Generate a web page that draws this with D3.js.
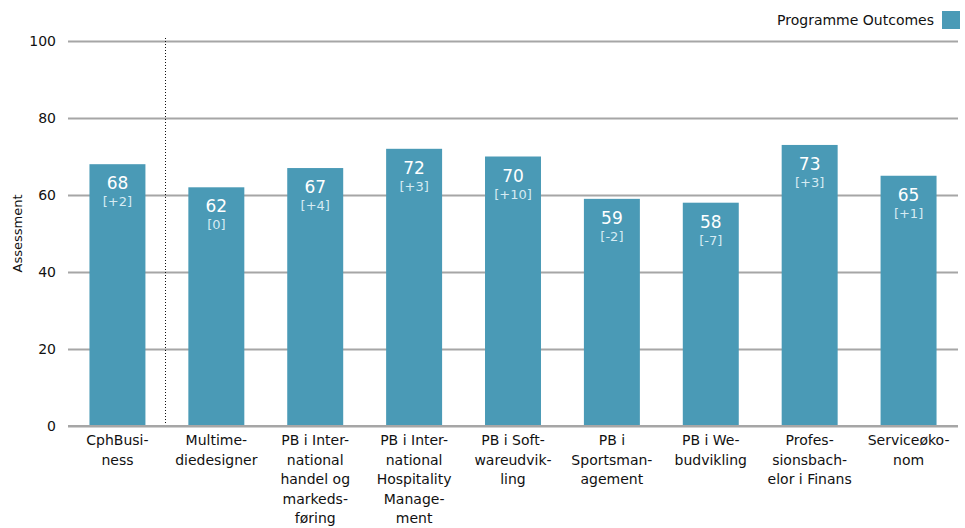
<!DOCTYPE html>
<html>
<head>
<meta charset="utf-8">
<script src="https://cdn.jsdelivr.net/npm/d3@7"></script>
<style>
  body { margin: 0; background: #fff; }
  svg text { font-family: Tahoma, "DejaVu Sans", sans-serif; }
</style>
</head>
<body>
<svg id="chart" width="965" height="528"></svg>
<script>
// Programme names, each split into its wrapped label lines
const categories = [
  ["CphBusi-", "ness"],
  ["Multime-", "diedesigner"],
  ["PB i Inter-", "national", "handel og", "markeds-", "føring"],
  ["PB i Inter-", "national", "Hospitality", "Manage-", "ment"],
  ["PB i Soft-", "wareudvik-", "ling"],
  ["PB i", "Sportsman-", "agement"],
  ["PB i We-", "budvikling"],
  ["Profes-", "sionsbach-", "elor i Finans"],
  ["Serviceøko-", "nom"]
];
const outcomes = [68, 62, 67, 72, 70, 59, 58, 73, 65];
const changes = ["[+2]", "[0]", "[+4]", "[+3]", "[+10]", "[-2]", "[-7]", "[+3]", "[+1]"];
const yTicks = [0, 20, 40, 60, 80, 100];
const seriesName = "Programme Outcomes";

const barColor = "#4a9ab6";
const gridColor = "#a6a6a6";

const svg = d3.select("#chart");
const plot = { left: 68, right: 958, top: 41, bottom: 426 };

const x = d3.scaleBand()
  .domain(d3.range(categories.length))
  .range([plot.left, plot.right])
  .paddingInner(0.434)
  .paddingOuter(0.217);

const y = d3.scaleLinear().domain([0, 100]).range([plot.bottom, plot.top]);

// Horizontal gridlines and value ticks
const yAxis = svg.append("g")
  .attr("transform", `translate(${plot.left},0)`)
  .call(d3.axisLeft(y).tickValues(yTicks).tickSize(-(plot.right - plot.left)).tickPadding(12));
yAxis.select(".domain").remove();
yAxis.selectAll(".tick line").attr("stroke", gridColor).attr("stroke-width", 2);
yAxis.selectAll(".tick text")
  .attr("font-size", 14)
  .attr("fill", "#111");

// Axis title
svg.append("text")
  .attr("transform", `translate(22,${(plot.top + plot.bottom) / 2}) rotate(-90)`)
  .attr("text-anchor", "middle")
  .attr("font-size", 13)
  .attr("fill", "#111")
  .text("Assessment");

// Bars
svg.append("g").selectAll("rect")
  .data(outcomes)
  .join("rect")
  .attr("x", (d, i) => x(i))
  .attr("y", d => y(d))
  .attr("width", x.bandwidth())
  .attr("height", d => y(0) - y(d))
  .attr("fill", barColor);

// Baseline redrawn above bars
svg.append("line")
  .attr("x1", plot.left).attr("x2", plot.right)
  .attr("y1", y(0)).attr("y2", y(0))
  .attr("stroke", gridColor).attr("stroke-width", 2);

// Separator between the institution total and the programmes
const sepX = Math.floor((x(0) + x.bandwidth() + x(1)) / 2) - 0.5;
svg.append("line")
  .attr("x1", sepX).attr("x2", sepX)
  .attr("y1", plot.top - 3).attr("y2", y(0) - 1)
  .attr("stroke", "#111").attr("stroke-width", 1)
  .attr("stroke-dasharray", "1,2");

// Value and change labels inside bars
const labels = svg.append("g").selectAll("g")
  .data(outcomes)
  .join("g")
  .attr("transform", (d, i) => `translate(${x(i) + x.bandwidth() / 2},${y(d)})`);
labels.append("text")
  .attr("y", 25)
  .attr("text-anchor", "middle")
  .attr("font-size", 17)
  .attr("fill", "#ffffff")
  .text(d => d3.format("d")(d));
labels.append("text")
  .attr("y", 42)
  .attr("text-anchor", "middle")
  .attr("font-size", 13)
  .attr("fill", "#d6ebf3")
  .text((d, i) => changes[i]);

// Category labels
const cat = svg.append("g").selectAll("text")
  .data(categories)
  .join("text")
  .attr("x", (d, i) => x(i) + x.bandwidth() / 2)
  .attr("y", plot.bottom + 19)
  .attr("text-anchor", "middle")
  .attr("font-size", 14)
  .attr("fill", "#111");
cat.selectAll("tspan")
  .data(d => d)
  .join("tspan")
  .attr("x", function () { return d3.select(this.parentNode).attr("x"); })
  .attr("dy", (d, i) => i === 0 ? 0 : 19.5)
  .text(d => d);

// Legend
const legend = svg.append("g");
legend.append("rect")
  .attr("x", 942).attr("y", 11)
  .attr("width", 18).attr("height", 18)
  .attr("fill", barColor);
legend.append("text")
  .attr("x", 934).attr("y", 25)
  .attr("text-anchor", "end")
  .attr("font-size", 14)
  .attr("fill", "#111")
  .text(seriesName);
</script>
</body>
</html>
